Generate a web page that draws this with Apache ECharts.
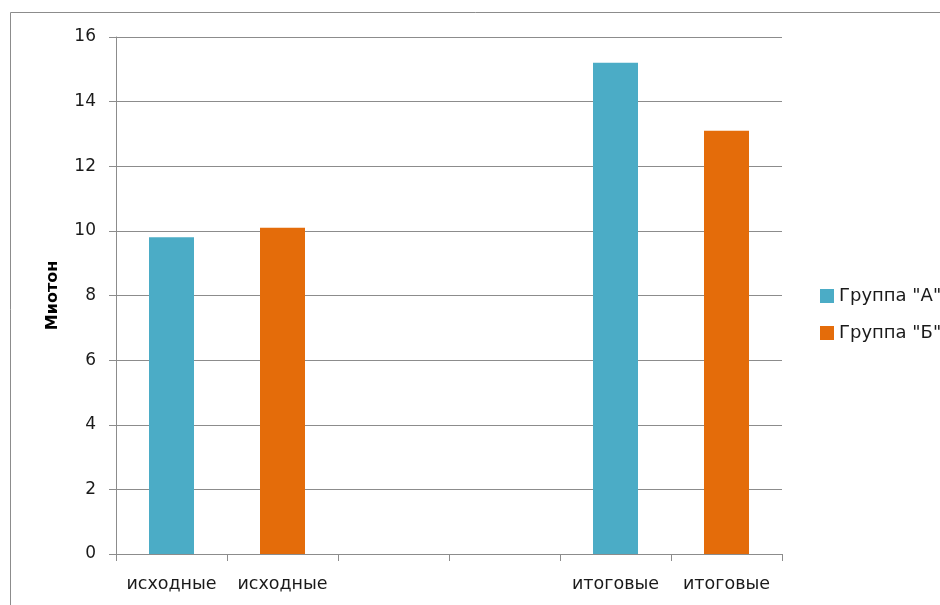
<!DOCTYPE html>
<html>
<head>
<meta charset="utf-8">
<script src="https://cdn.jsdelivr.net/npm/echarts@6/dist/echarts.min.js"></script>
<style>
  html, body { margin: 0; padding: 0; background: #fff; }
  #chart { width: 940px; height: 605px; }
</style>
</head>
<body>
<div id="chart"></div>
<script>
// Category slots along the x axis (two empty slots separate the groups)
const categories = ['исходные', 'исходные', '', '', 'итоговые', 'итоговые'];
// Values per group; '-' leaves a slot empty
const groupA = [9.8, '-', '-', '-', 15.2, '-'];
const groupB = ['-', 10.1, '-', '-', '-', 13.1];
const seriesNames = ['Группа "А"', 'Группа "Б"'];
const yTicks = { min: 0, max: 16, interval: 2 };

const font = '"DejaVu Sans", Verdana, sans-serif';
const lineColor = '#8c8c8c';
const textColor = '#1a1a1a';

const chart = echarts.init(document.getElementById('chart'));
chart.setOption({
  animation: false,
  textStyle: { fontFamily: font },
  graphic: [{
    type: 'rect',
    shape: { x: 10.5, y: 12.5, width: 1000, height: 1000 },
    style: { fill: 'none', stroke: '#8c8c8c', lineWidth: 1 },
    silent: true
  }],
  grid: { left: 116, right: 158, top: 37, bottom: 51 },
  legend: {
    orient: 'vertical',
    left: 815,
    top: 282,
    itemWidth: 14,
    itemHeight: 14,
    itemGap: 19,
    itemTextGap: 12,
    icon: 'rect',
    textStyle: { fontFamily: font, fontSize: 18, lineHeight: 18, color: textColor },
    data: seriesNames
  },
  xAxis: {
    type: 'category',
    data: categories,
    boundaryGap: true,
    axisLine: { lineStyle: { color: lineColor, width: 1 } },
    axisTick: { show: true, length: 7, lineStyle: { color: lineColor } },
    axisLabel: { fontFamily: font, fontSize: 17.5, color: textColor, margin: 21, interval: 0 }
  },
  yAxis: {
    type: 'value',
    min: yTicks.min,
    max: yTicks.max,
    interval: yTicks.interval,
    name: 'Миотон',
    nameLocation: 'middle',
    nameRotate: 90,
    nameGap: 55,
    nameTextStyle: { fontFamily: font, fontSize: 16, fontWeight: 'bold', color: '#000' },
    axisLine: { show: true, lineStyle: { color: lineColor, width: 1 } },
    axisTick: { show: true, length: 7, lineStyle: { color: lineColor } },
    axisLabel: { fontFamily: font, fontSize: 17, color: textColor, margin: 20 },
    splitLine: { lineStyle: { color: lineColor, width: 1 } }
  },
  series: [
    {
      name: seriesNames[0],
      type: 'bar',
      data: groupA,
      barWidth: 45,
      barGap: '-100%',
      itemStyle: { color: '#4BACC6' }
    },
    {
      name: seriesNames[1],
      type: 'bar',
      data: groupB,
      barWidth: 45,
      barGap: '-100%',
      itemStyle: { color: '#E46C0A' }
    }
  ]
});
</script>
</body>
</html>
